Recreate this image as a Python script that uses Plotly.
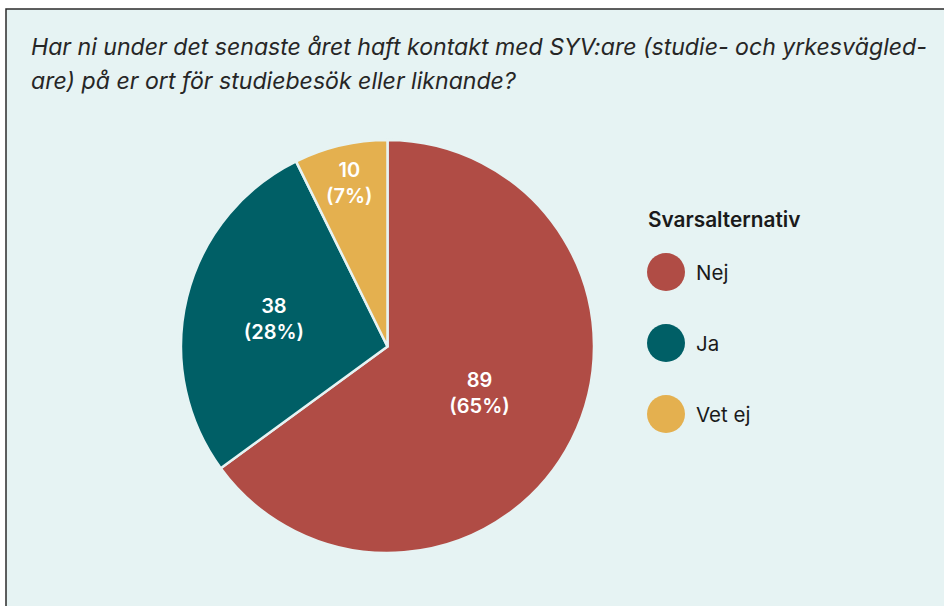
import plotly.graph_objects as go

# ---- data ----
categories = ["Nej", "Ja", "Vet ej"]
values = [89, 38, 10]
colors = ["#b04c45", "#005f66", "#e4b04f"]
title_lines = [
    "Har ni under det senaste året haft kontakt med SYV:are (studie- och yrkesvägled-",
    "are) på er ort för studiebesök eller liknande?",
]
legend_title = "Svarsalternativ"

W, H = 944, 606
BG = "#e6f3f3"
FONT = "Inter, Lato, 'Noto Sans', sans-serif"


def px(x):
    return x / W


def py(y):
    return 1 - y / H


fig = go.Figure()
fig.add_trace(go.Pie(
    labels=categories,
    values=values,
    sort=False,
    direction="clockwise",
    rotation=0,
    marker=dict(colors=colors, line=dict(color=BG, width=2.5)),
    texttemplate="%{value}<br>(%{percent:.0%})",
    textposition="inside",
    insidetextorientation="horizontal",
    insidetextfont=dict(color="white", size=20, family=FONT, weight=600),
    hoverinfo="label+value+percent",
    domain=dict(x=[px(181), px(594)], y=[py(553), py(140)]),
    showlegend=False,
))

shapes = [
    dict(type="rect", xref="paper", yref="paper",
         x0=px(6), x1=px(W + 20), y0=py(H + 20), y1=py(9),
         fillcolor=BG, line=dict(color="#2b2b2b", width=1.5), layer="below"),
]
annotations = []
for i, line in enumerate(title_lines):
    annotations.append(dict(
        text=line, xref="paper", yref="paper", x=px(29), y=py(47 + 34 * i),
        xanchor="left", yanchor="middle", showarrow=False,
        font=dict(family=FONT, size=23.1, color="#262626", style="italic"),
    ))

annotations.append(dict(
    text=legend_title, xref="paper", yref="paper",
    x=px(646), y=py(220), xanchor="left", yanchor="middle", showarrow=False,
    font=dict(family=FONT, size=20.8, color="#1a1a1a", weight=600),
))
r = 19
for i, (cat, col) in enumerate(zip(categories, colors)):
    cy = 272 + 71 * i
    shapes.append(dict(type="circle", xref="paper", yref="paper",
                       x0=px(666 - r), x1=px(666 + r), y0=py(cy + r), y1=py(cy - r),
                       fillcolor=col, line=dict(width=0)))
    annotations.append(dict(
        text=cat, xref="paper", yref="paper", x=px(694), y=py(cy),
        xanchor="left", yanchor="middle", showarrow=False,
        font=dict(family=FONT, size=20.5, color="#1a1a1a"),
    ))

fig.update_layout(
    width=W, height=H,
    margin=dict(l=0, r=0, t=0, b=0),
    paper_bgcolor="white",
    plot_bgcolor="white",
    shapes=shapes,
    annotations=annotations,
    showlegend=False,
)

fig.write_html(
    "out.html",
    config={"displayModeBar": False},
    post_script="document.body.style.margin='0';document.body.style.overflow='hidden';",
)
